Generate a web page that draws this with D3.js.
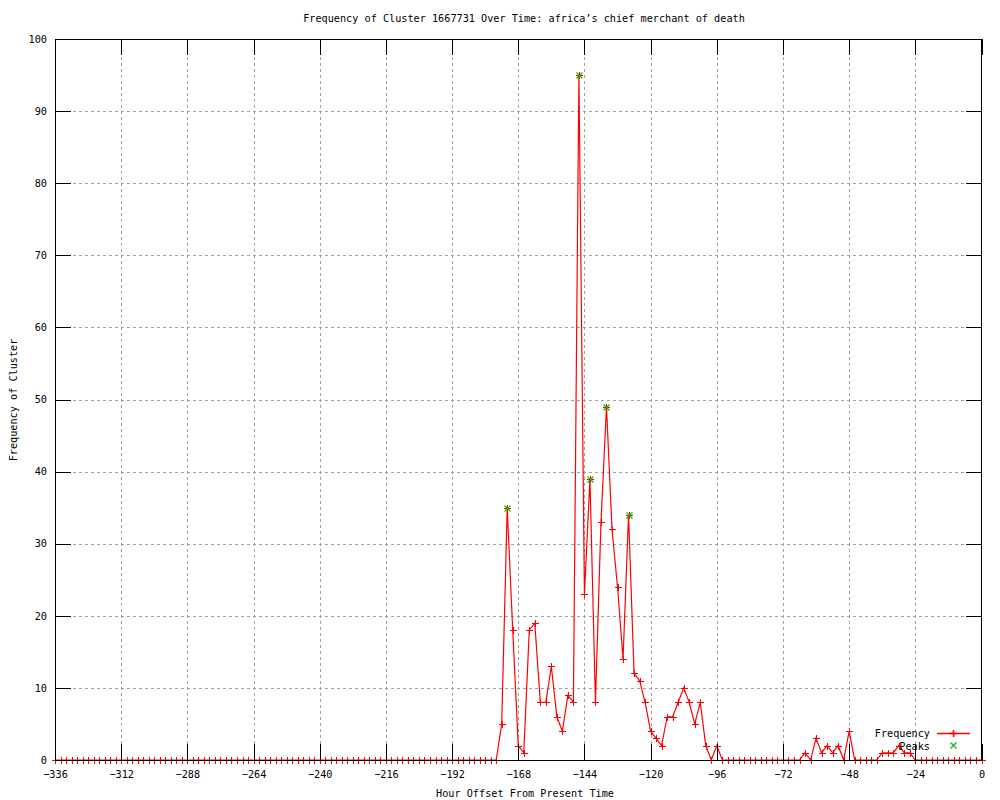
<!DOCTYPE html>
<html>
<head>
<meta charset="utf-8">
<script src="https://cdn.jsdelivr.net/npm/d3@7"></script>
<style>
  html, body { margin: 0; padding: 0; background: #fff; }
  svg { display: block; }
  text { font-family: "DejaVu Sans Mono", "Liberation Mono", monospace; font-size: 10.2px; fill: #000; }
</style>
</head>
<body>
<svg id="chart" width="1000" height="800"></svg>
<script>
// ---- data ----
const chartTitle = "Frequency of Cluster 1667731 Over Time: africa\u2019s chief merchant of death";
const xAxisTitle = "Hour Offset From Present Time";
const yAxisTitle = "Frequency of Cluster";
const xTickValues = [-336, -312, -288, -264, -240, -216, -192, -168, -144, -120, -96, -72, -48, -24, 0];
const yTickValues = [0, 10, 20, 30, 40, 50, 60, 70, 80, 90, 100];
const hourStart = -336, hourStep = 2;
const frequency = [
  0,0,0,0,0,0,0,0,0,0, 0,0,0,0,0,0,0,0,0,0,
  0,0,0,0,0,0,0,0,0,0, 0,0,0,0,0,0,0,0,0,0,
  0,0,0,0,0,0,0,0,0,0, 0,0,0,0,0,0,0,0,0,0,
  0,0,0,0,0,0,0,0,0,0, 0,0,0,0,0,0,0,0,0,0,
  0,
  5,35,18,2,1,18,19,8,8,13,
  6,4,9,8,95,23,39,8,33,49,
  32,24,14,34,12,11,8,4,3,2,
  6,6,8,10,8,5,8,2,0,2,
  0,0,0,0,0,0,0,0,0,0,0,0,0,0,0,
  1,0,3,1,2,1,2,0,4,0,0,0,0,0,
  1,1,1,2,1,1,
  0,0,0,0,0,0,0,0,0,0,0,0,0
];
const peakHours = [-172, -146, -142, -136, -128];
const peakValues = [35, 95, 39, 49, 34];

const series = frequency.map((v, i) => ({ h: hourStart + i * hourStep, v }));
const peaks = peakHours.map((h, i) => ({ h, v: peakValues[i] }));

// ---- layout ----
const L = 55, R = 981.5, T = 39, B = 760;
const svg = d3.select("#chart");
const x = d3.scaleLinear().domain([-336, 0]).range([L, R]);
const y = d3.scaleLinear().domain([0, 100]).range([B, T]);

// grid
const grid = svg.append("g").attr("shape-rendering", "crispEdges")
  .style("stroke", "#a0a0a0").attr("stroke-width", 1).attr("stroke-dasharray", "3,3");
grid.selectAll(".gx").data(xTickValues.filter(d => d > -336 && d < 0)).join("line")
  .attr("x1", d => Math.round(x(d)) + 0.5).attr("x2", d => Math.round(x(d)) + 0.5)
  .attr("y1", T).attr("y2", B);
grid.selectAll(".gy").data(yTickValues.filter(d => d > 0 && d < 100)).join("line")
  .attr("x1", L).attr("x2", R)
  .attr("y1", d => Math.round(y(d)) + 0.5).attr("y2", d => Math.round(y(d)) + 0.5);

// data line
const line = d3.line().x(d => x(d.h)).y(d => y(d.v));
svg.append("path").datum(series).attr("d", line)
  .attr("fill", "none").style("stroke", "#ff0000").attr("stroke-width", 1.2);

// plus markers
const ms = 3.5;
svg.append("g").style("stroke", "#ff0000").attr("stroke-width", 1.2).attr("shape-rendering", "crispEdges")
  .selectAll("path").data(series).join("path")
  .attr("d", d => {
    const cx = Math.round(x(d.h)) + 0.5, cy = Math.round(y(d.v)) + 0.5;
    return `M${cx - ms},${cy}H${cx + ms}M${cx},${cy - ms}V${cy + ms}`;
  });

// axes (border with inward ticks)
const axisG = svg.append("g").attr("shape-rendering", "crispEdges");
axisG.append("rect").attr("x", L).attr("y", T).attr("width", R - L).attr("height", B - T)
  .attr("fill", "none").style("stroke", "#000").attr("stroke-width", 1);

const bottomAxis = d3.axisBottom(x).tickValues(xTickValues).tickFormat(d3.format("d")).tickSizeInner(-16).tickSizeOuter(0).tickPadding(11);
const topAxis = d3.axisTop(x).tickValues(xTickValues).tickFormat("").tickSizeInner(-16).tickSizeOuter(0);
const leftAxis = d3.axisLeft(y).tickValues(yTickValues).tickFormat(d3.format("d")).tickSizeInner(-16).tickSizeOuter(0).tickPadding(8);
const rightAxis = d3.axisRight(y).tickValues(yTickValues).tickFormat("").tickSizeInner(-16).tickSizeOuter(0);

function styleAxis(g) {
  g.select(".domain").remove();
  g.selectAll(".tick line").style("stroke", "#000");
  g.selectAll("text").attr("font-family", null).attr("font-size", null).attr("fill", "#000");
}
axisG.append("g").attr("transform", `translate(0,${B})`).call(bottomAxis).call(styleAxis);
axisG.append("g").attr("transform", `translate(0,${T})`).call(topAxis).call(styleAxis);
axisG.append("g").attr("transform", `translate(${L},0)`).call(leftAxis).call(styleAxis);
axisG.append("g").attr("transform", `translate(${R},0)`).call(rightAxis).call(styleAxis);

// peak markers (green x)
const ps = 3;
svg.append("g").style("stroke", "#00c000").attr("stroke-width", 1.2)
  .selectAll("path").data(peaks).join("path")
  .attr("d", d => {
    const cx = Math.round(x(d.h)) + 0.5, cy = Math.round(y(d.v)) + 0.5;
    return `M${cx - ps},${cy - ps}L${cx + ps},${cy + ps}M${cx - ps},${cy + ps}L${cx + ps},${cy - ps}`;
  });

// titles
svg.append("text").attr("x", 524).attr("y", 22).attr("text-anchor", "middle").text(chartTitle);
svg.append("text").attr("x", 525).attr("y", 797).attr("text-anchor", "middle").text(xAxisTitle);
svg.append("text").attr("transform", "translate(17,400) rotate(-90)").attr("text-anchor", "middle").text(yAxisTitle);

// legend
const lg = svg.append("g");
lg.append("text").attr("x", 930).attr("y", 737).attr("text-anchor", "end").text("Frequency");
lg.append("line").attr("x1", 937).attr("x2", 970).attr("y1", 733.5).attr("y2", 733.5)
  .style("stroke", "#ff0000").attr("stroke-width", 1.6);
lg.append("path").attr("d", `M${953.5 - ms},733.5H${953.5 + ms}M953.5,${733.5 - ms}V${733.5 + ms}`)
  .style("stroke", "#ff0000").attr("fill", "none").attr("stroke-width", 1.6);
lg.append("text").attr("x", 930).attr("y", 750).attr("text-anchor", "end").text("Peaks");
lg.append("path").attr("d", `M${953.5 - ps},${745.5 - ps}L${953.5 + ps},${745.5 + ps}M${953.5 - ps},${745.5 + ps}L${953.5 + ps},${745.5 - ps}`)
  .style("stroke", "#00c000").attr("fill", "none").attr("stroke-width", 1.2);
</script>
</body>
</html>
